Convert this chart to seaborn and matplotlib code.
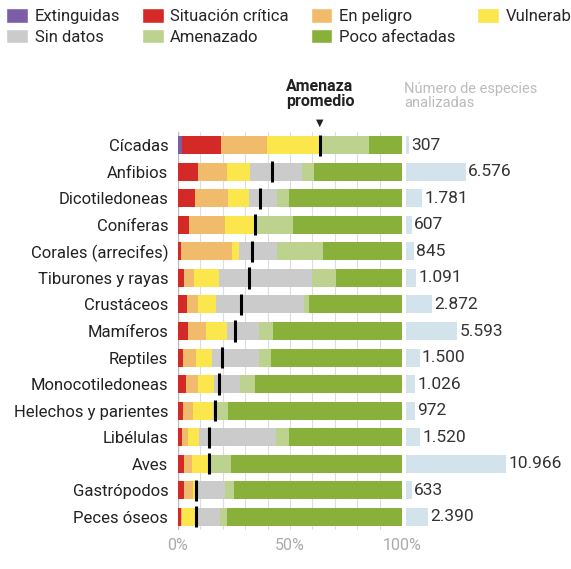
import matplotlib
matplotlib.use("Agg")
import matplotlib.pyplot as plt
import seaborn as sns
import pandas as pd
import numpy as np
from matplotlib.patches import Patch

groups = ["Cícadas", "Anfibios", "Dicotiledoneas", "Coníferas", "Corales (arrecifes)",
          "Tiburones y rayas", "Crustáceos", "Mamíferos", "Reptiles", "Monocotiledoneas",
          "Helechos y parientes", "Libélulas", "Aves", "Gastrópodos", "Peces óseos"]
extinguidas = [1.6, 0, 0, 0, 0, 0, 0, 0, 0, 0, 0, 0, 0, 0, 0]
critica     = [17.4, 8.8, 7.7, 5.1, 1.2, 2.5, 4.0, 4.3, 2.1, 3.6, 2.1, 1.9, 2.5, 2.5, 1.3]
peligro     = [20.9, 13.1, 14.6, 15.7, 22.9, 4.6, 4.9, 8.3, 5.8, 5.2, 4.6, 2.7, 3.9, 4.3, 0.5]
vulnerable  = [23.5, 10.2, 9.4, 13.3, 3.3, 11.4, 7.9, 9.4, 7.4, 7.3, 9.1, 4.8, 7.4, 0.8, 5.6]
sin_datos   = [0.0, 23.1, 12.6, 0.0, 16.9, 41.3, 39.3, 14.2, 20.9, 11.4, 1.6, 34.4, 1.1, 13.2, 11.4]
amenazado   = [22.0, 5.7, 5.1, 17.1, 20.3, 10.7, 2.4, 6.4, 5.3, 6.7, 5.1, 5.6, 8.6, 4.1, 2.9]
promedio    = [63.4, 41.8, 36.5, 34.2, 33.0, 31.5, 28.0, 25.6, 19.5, 18.2, 16.4, 14.0, 14.0, 7.9, 7.9]
especies    = [307, 6576, 1781, 607, 845, 1091, 2872, 5593, 1500, 1026, 972, 1520, 10966, 633, 2390]
especies_txt = ["307", "6.576", "1.781", "607", "845", "1.091", "2.872", "5.593", "1.500",
                "1.026", "972", "1.520", "10.966", "633", "2.390"]

cats = ["Extinguidas", "Situación crítica", "En peligro", "Vulnerable", "Sin datos", "Amenazado", "Poco afectadas"]
colors = ["#7b5ea7", "#d42a27", "#f0bb6b", "#fbe64b", "#cbcbcb", "#bed28f", "#88b03b"]

sns.set_theme(style="white")
plt.rcParams["font.family"] = ["Roboto", "DejaVu Sans"]

layers = [extinguidas, critica, peligro, vulnerable, sin_datos, amenazado]
cum = np.cumsum(np.array(layers), axis=0)
df = pd.DataFrame({"grupo": groups})

fig = plt.figure(figsize=(5.71, 5.69), dpi=100)
W, H = 571, 569
ax = fig.add_axes([178/W, 1-530/H, 224/W, (530-132)/H])
for x in range(0, 101, 10):
    ax.axvline(x, color="#dddddd", lw=0.8, zorder=0)
df["v"] = 100.0
sns.barplot(data=df, y="grupo", x="v", color=colors[6], orient="h", width=0.68, ax=ax,
            saturation=1, zorder=2, linewidth=0)
for i in range(5, -1, -1):
    df["v"] = cum[i]
    sns.barplot(data=df, y="grupo", x="v", color=colors[i], orient="h", width=0.68, ax=ax,
                saturation=1, zorder=2, linewidth=0)
for i, p in enumerate(promedio):
    ax.plot([p, p], [i-0.4, i+0.4], color="black", lw=2.2, zorder=5, solid_capstyle="butt")
ax.set_xlim(0, 100)
ax.set_ylim(len(groups)-0.5, -0.5)
ax.set_xticks([0, 50, 100])
ax.set_xticklabels(["0%", "50%", "100%"], color="#aaaaaa", fontsize=11.5)
ax.tick_params(axis="x", length=0, pad=6)
ax.tick_params(axis="y", length=0, pad=7, labelsize=12, labelcolor="#222222")
ax.set_xlabel(""); ax.set_ylabel("")
for s in ax.spines.values():
    s.set_visible(False)
ax.axvline(0, color="#bbbbbb", lw=1, zorder=1)

ax2 = fig.add_axes([406/W, 1-530/H, 110/W, (530-132)/H])
df["n"] = especies
sns.barplot(data=df, y="grupo", x="n", color="#d3e3eb", orient="h", width=0.68, ax=ax2,
            saturation=1, linewidth=0)
ax2.set_xlim(0, 10966*1.1)
ax2.set_ylim(len(groups)-0.5, -0.5)
for i, (n, t) in enumerate(zip(especies, especies_txt)):
    ax2.text(n + 250, i, t, va="center", ha="left", fontsize=12.5, color="#333333")
ax2.axis("off")

fig.text(320/W, 1-94/H, "Amenaza\npromedio", ha="center", va="center", fontsize=11.5,
         fontweight="bold", color="#222222", linespacing=0.95)
fig.text(320/W, 1-123/H, "▼", ha="center", va="center", fontsize=7, color="#222222", family="DejaVu Sans")
fig.text(404/W, 1-96/H, "Número de especies\nanalizadas", ha="left", va="center", fontsize=10.5,
         color="#bbbbbb", linespacing=1.0)

order = [0, 4, 1, 5, 2, 6, 3]
handles = [Patch(facecolor=colors[k], label=cats[k]) for k in order]
fig.legend(handles=handles, ncol=4, loc="upper left", bbox_to_anchor=(-0.015, 1.012), frameon=False,
           fontsize=12, handlelength=1.3, handleheight=1.0, handletextpad=0.4, columnspacing=1.3,
           labelspacing=0.25)

fig.savefig("out.png", dpi=100)
